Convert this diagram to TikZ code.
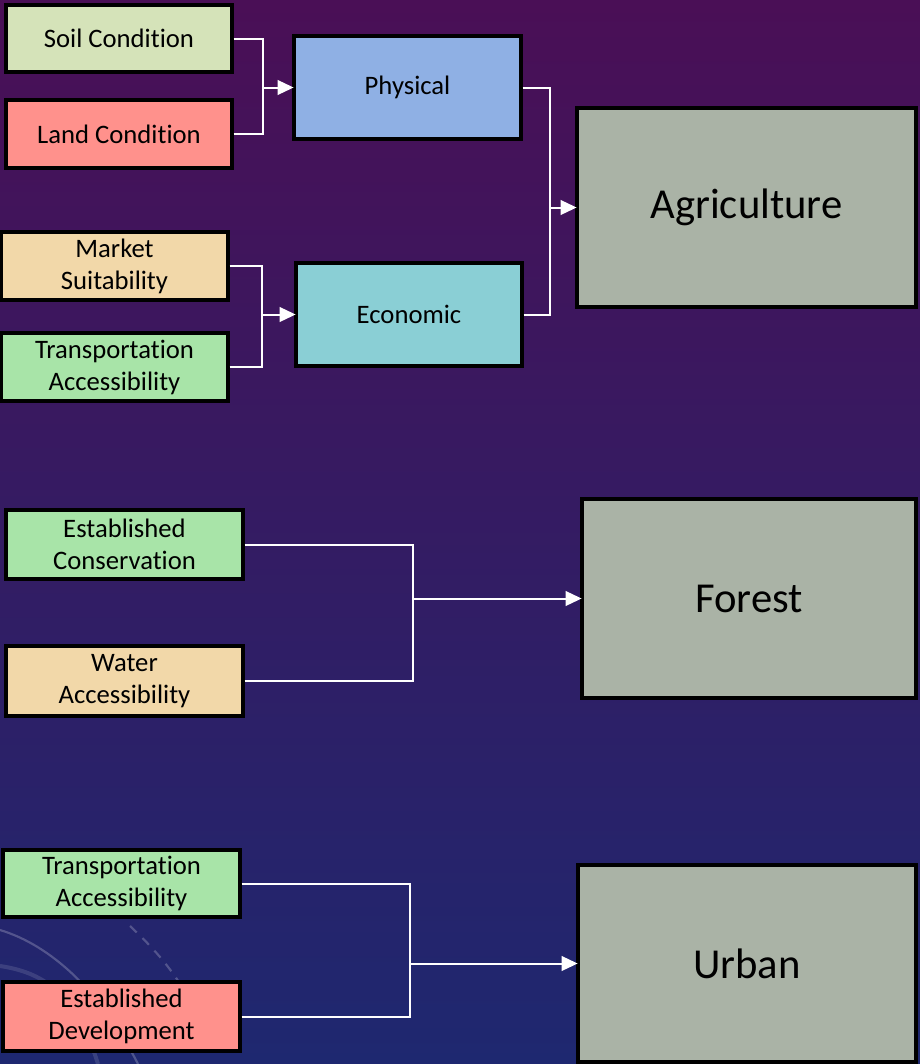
\documentclass[tikz,border=0pt]{standalone}
\usepackage{fontspec}
\setmainfont{Carlito}[Ligatures=NoCommon]
\usetikzlibrary{arrows.meta}

\definecolor{soil}{HTML}{D5E3B9}
\definecolor{rose}{HTML}{FF918C}
\definecolor{sand}{HTML}{F2D8A9}
\definecolor{mint}{HTML}{A8E4A8}
\definecolor{sky}{HTML}{8FB0E4}
\definecolor{teal}{HTML}{8ACFD5}
\definecolor{sage}{HTML}{AAB3A6}
\definecolor{bgtop}{HTML}{4A0F56}
\definecolor{bgmid}{HTML}{35195F}
\definecolor{bgbot}{HTML}{1E2870}

\begin{document}
\begin{tikzpicture}[x=0.75pt,y=-0.75pt,
  box/.style={draw=black, line width=2.6pt, inner sep=0pt, align=center, text=black},
  small/.style={box, font=\fontsize{20}{24}\selectfont},
  big/.style={box, font=\fontsize{32}{38}\selectfont},
  sz/.style 2 args={minimum width=#1*0.75pt, minimum height=#2*0.75pt},
  wire/.style={draw=white, line width=1.5pt},
  arrow/.style={wire, -{Triangle[length=12pt,width=11pt]}, shorten >=-1pt},
  deco/.style={draw=white, draw opacity=0.22, line width=1.6pt}]

% canvas and background
\useasboundingbox (0,0) rectangle (920,1064);
\shade[top color=bgtop, middle color=bgmid, bottom color=bgbot] (0,0) rectangle (920,1064);

% faint ornamental arcs, lower left
\draw[deco] (0,930) .. controls (50,945) and (100,990) .. (138,1064);
\draw[deco, line width=3pt, draw opacity=0.12] (0,966) .. controls (40,972) and (75,990) .. (98,1064);
\draw[deco, dashed, dash pattern=on 7pt off 6pt] (130,926) .. controls (150,945) and (170,965) .. (190,1000);

% agriculture group
\node[small, fill=soil, sz={226}{67}] (soilc) at (119,38.5) {Soil Condition};
\node[small, fill=rose, sz={226}{68}] (landc) at (119,134) {Land Condition};
\node[small, fill=sky, sz={227}{103}] (phys) at (407.5,87.5) {Physical};
\node[small, fill=sand, sz={227}{68}] (market) at (114.5,266) {Market\\Suitability};
\node[small, fill=mint, sz={227}{68}] (transA) at (114.5,367) {Transportation\\Accessibility};
\node[small, fill=teal, sz={226}{103}] (econ) at (409,314.5) {Economic};
\node[big, fill=sage, sz={339}{199}] (agri) at (746.5,207.5) {Agriculture};

% forest group
\node[small, fill=mint, sz={237}{69}] (cons) at (124.5,544.5) {Established\\Conservation};
\node[small, fill=sand, sz={237}{70}] (water) at (124.5,681) {Water\\Accessibility};
\node[big, fill=sage, sz={334}{199}] (forest) at (749,598.5) {Forest};

% urban group
\node[small, fill=mint, sz={237}{67}] (transU) at (121.5,883.5) {Transportation\\Accessibility};
\node[small, fill=rose, sz={237}{69}] (devel) at (121.5,1016.5) {Established\\Development};
\node[big, fill=sage, sz={338}{197}] (urban) at (747,963.5) {Urban};

% junction points: fixed x, level with the box they feed
\coordinate (xphys) at (263,0);
\coordinate (xecon) at (262,0);
\coordinate (xagri) at (550,0);
\coordinate (xfor) at (413,0);
\coordinate (xurb) at (410,0);
\coordinate (jphys) at (xphys |- phys.west);
\coordinate (jecon) at (xecon |- econ.west);
\coordinate (jagri) at (xagri |- agri.west);
\coordinate (jfor) at (xfor |- forest.west);
\coordinate (jurb) at (xurb |- urban.west);

% connectors
\draw[wire] (soilc.east) -| (jphys);
\draw[wire] (landc.east) -| (jphys);
\draw[arrow] (jphys) -- (phys.west);

\draw[wire] (market.east) -| (jecon);
\draw[wire] (transA.east) -| (jecon);
\draw[arrow] (jecon) -- (econ.west);

\draw[wire] (phys.east) -| (jagri);
\draw[wire] (econ.east) -| (jagri);
\draw[arrow] (jagri) -- (agri.west);

\draw[wire] (cons.east) -| (jfor);
\draw[wire] (water.east) -| (jfor);
\draw[arrow] (jfor) -- (forest.west);

\draw[wire] (transU.east) -| (jurb);
\draw[wire] (devel.east) -| (jurb);
\draw[arrow] (jurb) -- (urban.west);
\end{tikzpicture}
\end{document}
